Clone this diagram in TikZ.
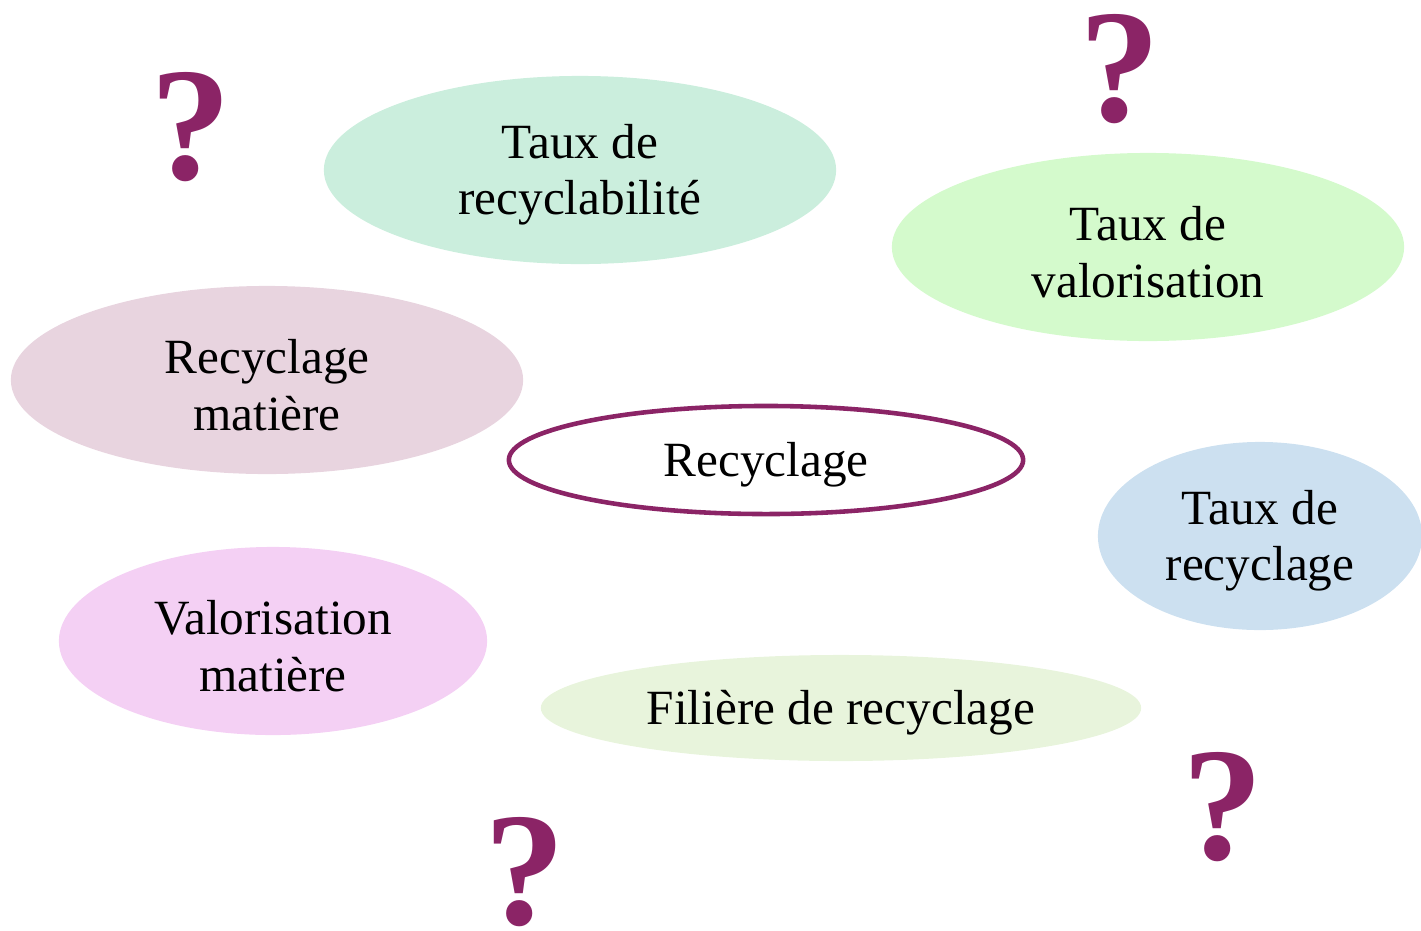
\documentclass[tikz,border=0pt]{standalone}
\usepackage{fontspec}
\setmainfont{Liberation Serif}
\usepackage{xcolor}
\usepackage{tikz}
\usetikzlibrary{shapes,positioning}
\definecolor{prune}{HTML}{8B2466}
\definecolor{vertA}{HTML}{CBEEDD}
\definecolor{vertB}{HTML}{D4FACC}
\definecolor{roseA}{HTML}{E8D4DF}
\definecolor{roseB}{HTML}{F4D0F4}
\definecolor{bleu}{HTML}{CCE0F0}
\definecolor{vertC}{HTML}{E8F4DC}
\newcommand{\haut}{\rule{0pt}{12.6pt}}
\tikzstyle{bulle} = [ellipse, inner sep=0pt, align=center, font=\fontsize{14pt}{16pt}\selectfont]
\tikzstyle{quest} = [text=prune, inner sep=0pt, font=\fontsize{46pt}{50pt}\selectfont\bfseries]

\begin{document}
\begin{tikzpicture}[x=0.01cm,y=-0.01cm]
		\useasboundingbox (0,0) rectangle (1421,930); %frame
		
		% coloured ellipses
		\node[bulle,fill=vertA,minimum width=5.12cm,minimum height=1.88cm] (recyclab) at (580,170) {\haut Taux de\\recyclabilité}; % top
		\node[bulle,fill=vertB,minimum width=5.12cm,minimum height=1.88cm] (valo) at (1148,247) {\haut Taux de\\valorisation}; % top right
		\node[bulle,fill=roseA,minimum width=5.12cm,minimum height=1.88cm] (recmat) at (267,380) {\haut Recyclage\\matière}; % left
		\node[bulle,fill=bleu,minimum width=3.24cm,minimum height=1.88cm] (tauxrec) at (1260,536) {\haut Taux de\\recyclage}; % right
		\node[bulle,fill=roseB,minimum width=4.28cm,minimum height=1.88cm] (valomat) at (273,641) {\haut Valorisation\\matière}; % bottom left
		\node[bulle,fill=vertC,minimum width=6.00cm,minimum height=1.06cm] (filiere) at (841,708) {\haut Filière de recyclage}; % bottom
		
		% centre
		\node[bulle,draw=prune,line width=1.3pt,fill=white,minimum width=5.14cm,minimum height=1.08cm] (recyc) at (766,460) {\haut Recyclage}; % middle
		
		% question marks
		\node[quest] (q1) at (191,127) {?}; % top left
		\node[quest] (q2) at (1120,69) {?}; % top right
		\node[quest] (q3) at (1223,807) {?}; % bottom right
		\node[quest] (q4) at (525,872) {?}; % bottom
		
		\end{tikzpicture}
\end{document}
